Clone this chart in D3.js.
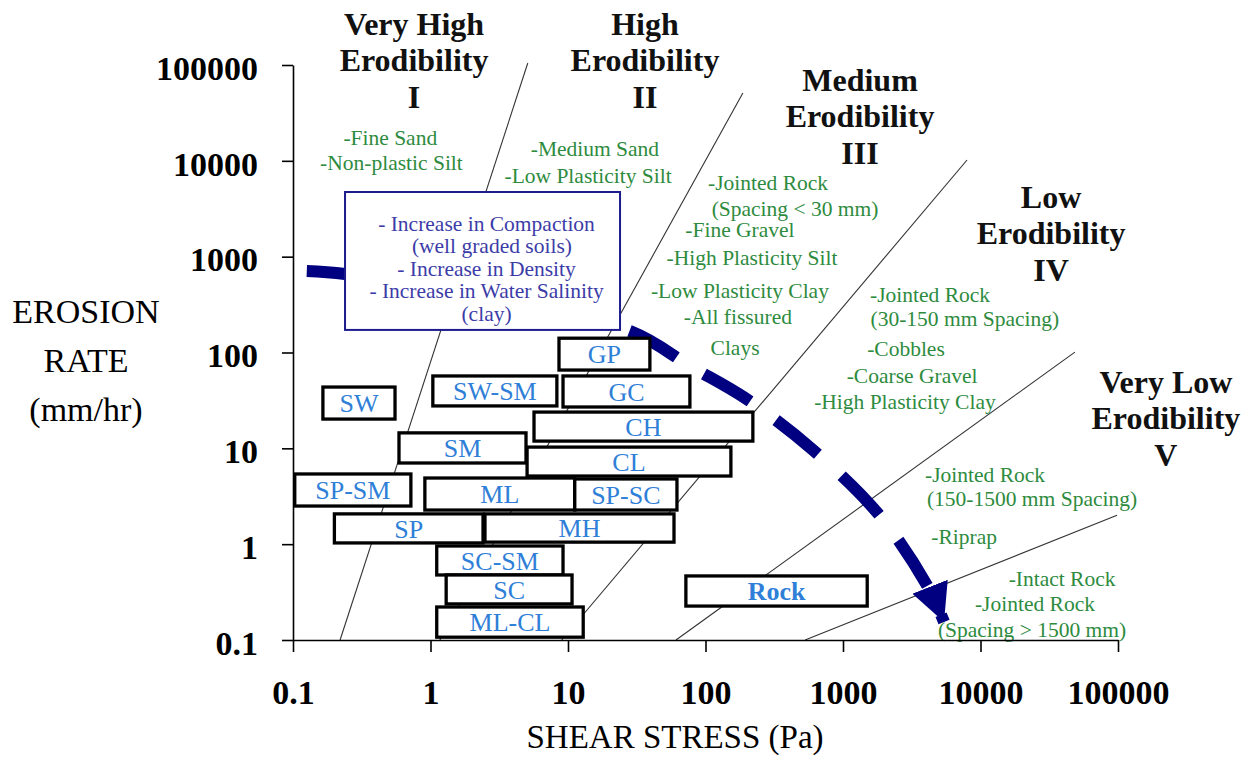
<!DOCTYPE html>
<html>
<head>
<meta charset="utf-8">
<script src="https://cdn.jsdelivr.net/npm/d3@7"></script>
<style>
  body { margin: 0; background: #fff; }
  svg { display: block; }
  text { font-family: "Liberation Serif", "Times New Roman", serif; }
</style>
</head>
<body>
<div id="chart"></div>
<script>
// axis ticks (log scales)
const shearTicks = [0.1, 1, 10, 100, 1000, 10000, 100000]
const rateTicks = [0.1, 1, 10, 100, 1000, 10000, 100000]

// soil groups: shear stress range (Pa) and erosion rate range (mm/hr)
const soilNames = ["SW", "SW-SM", "SM", "SP-SM", "ML", "SP", "MH", "SC-SM", "SC", "ML-CL", "GP", "GC", "CH", "CL", "SP-SC", "Rock"]
const shearLow  = [0.165, 1.04, 0.59, 0.103, 0.91, 0.20, 2.49, 1.11, 1.30, 1.11, 8.6, 9.2, 5.66, 5.04, 11.2, 72]
const shearHigh = [0.552, 8.3, 4.95, 0.72, 11.2, 2.41, 59, 9.2, 10.7, 12.9, 39.4, 77, 221, 153, 62, 1500]
const rateLow   = [20.2, 27.7, 7.03, 2.50, 2.27, 1.03, 1.05, 0.477, 0.238, 0.107, 65.6, 27.0, 11.9, 5.14, 2.27, 0.226]
const rateHigh  = [43.6, 56.9, 14.5, 5.40, 4.90, 2.07, 2.07, 0.957, 0.477, 0.221, 141, 56.9, 23.9, 10.3, 4.79, 0.466]

// erodibility category boundaries (straight lines in log-log space)
const boundaryShearStart = [0.22, 1.17, 9.0, 61, 530]
const boundaryRateStart  = [0.1, 0.1, 0.1, 0.1, 0.1]
const boundaryShearEnd   = [5.1, 187, 7980, 48600, 98400]
const boundaryRateEnd    = [105000, 51000, 10200, 101, 2.0]

// category titles
const categoryTitles = [
    ["Very High", "Erodibility", "I"],
    ["High", "Erodibility", "II"],
    ["Medium", "Erodibility", "III"],
    ["Low", "Erodibility", "IV"],
    ["Very Low", "Erodibility", "V"]
]
const categoryShear = [0.759, 36.3, 1330, 32600, 223000]
const categoryRate  = [206000, 206000, 53600, 3220, 37.8]

// typical materials per category
const materialText = [
    "-Fine Sand", "-Non-plastic Silt",
    "-Medium Sand", "-Low Plasticity Silt",
    "-Jointed Rock", "(Spacing < 30 mm)", "-Fine Gravel", "-High Plasticity Silt",
    "-Low Plasticity Clay", "-All fissured", "Clays",
    "-Jointed Rock", "(30-150 mm Spacing)", "-Cobbles", "-Coarse Gravel", "-High Plasticity Clay",
    "-Jointed Rock", "(150-1500 mm Spacing)", "-Riprap",
    "-Intact Rock", "-Jointed Rock", "(Spacing > 1500 mm)"
]
const materialShear = [0.51, 0.52, 15.7, 14.0, 285, 448, 178, 218, 178, 172, 164,
    4300, 7700, 2870, 3180, 2820, 10800, 23700, 7600, 39200, 24900, 23700]
const materialRate = [17700, 9500, 13600, 7100, 5900, 3200, 1900, 990, 449, 235, 114,
    408, 224, 109, 57, 31, 5.4, 3.0, 1.19, 0.44, 0.238, 0.130]

// trend arrow
const trendShear = [0.126, 0.239, 3.20, 29.2, 77.1, 194, 605, 1860, 4150, 5430]
const trendRate  = [710, 659, 329, 164, 72.3, 33.5, 9.62, 1.97, 0.357, 0.154]
const trendNotes = ["- Increase in Compaction", "  (well graded soils)", "- Increase in Density", "- Increase in Water Salinity", "(clay)"]
const notesShear = [0.239, 23.9]
const notesRate  = [172, 4730]

const width = 1251
const height = 757
const margin = {top: 65, right: 133, bottom: 117, left: 293}

const navy = "#000080"
const green = "#2e8b3e"
const soilBlue = "#2f7fd8"

const svg = d3.select("#chart").append("svg")
    .attr("width", width)
    .attr("height", height)

const x = d3.scaleLog().domain([0.1, 100000]).range([margin.left, width - margin.right])
const y = d3.scaleLog().domain([0.1, 100000]).range([height - margin.bottom, margin.top])

// --------- boundary lines
svg.append("g").selectAll("line")
    .data(boundaryShearStart.map((d, i) => ({x0: d, y0: boundaryRateStart[i], x1: boundaryShearEnd[i], y1: boundaryRateEnd[i]})))
    .join("line")
    .attr("x1", d => x(d.x0))
    .attr("y1", d => y(d.y0))
    .attr("x2", d => x(d.x1))
    .attr("y2", d => y(d.y1))
    .attr("stroke", "#333")
    .attr("stroke-width", 1.1)

// --------- trend arrow (dashed, with head)
svg.append("defs").append("marker")
    .attr("id", "head")
    .attr("viewBox", "0 -19 38 38")
    .attr("refX", 38)
    .attr("refY", 0)
    .attr("markerWidth", 38)
    .attr("markerHeight", 38)
    .attr("markerUnits", "userSpaceOnUse")
    .attr("orient", "auto")
    .append("path")
    .attr("d", "M0,-19L38,0L0,19Z")
    .attr("fill", navy)

const trendLine = d3.line()
    .x(d => x(d[0]))
    .y(d => y(d[1]))
    .curve(d3.curveCatmullRom)

const trend = svg.append("path")
    .datum(trendShear.map((d, i) => [d, trendRate[i]]))
    .attr("d", trendLine)
    .attr("fill", "none")
    .attr("stroke", navy)
    .attr("stroke-width", 12)
    .attr("marker-end", "url(#head)")

// line the dash pattern up so the last dash runs into the head
const dash = 54, period = 86
const len = trend.node().getTotalLength()
const offset = ((Math.ceil(len / period) * period + dash + 40 - len) % period + period) % period
trend.attr("stroke-dasharray", `${dash},${period - dash}`)
    .attr("stroke-dashoffset", offset)

// --------- notes box
const nx0 = x(notesShear[0]), nx1 = x(notesShear[1])
const ny0 = y(notesRate[1]), ny1 = y(notesRate[0])
svg.append("rect")
    .attr("x", nx0)
    .attr("y", ny0)
    .attr("width", nx1 - nx0)
    .attr("height", ny1 - ny0)
    .attr("fill", "#fff")
    .attr("stroke", "#1c1c8c")
    .attr("stroke-width", 2)

svg.append("g").selectAll("text")
    .data(trendNotes)
    .join("text")
    .attr("x", (nx0 + nx1) / 2 + 4)
    .attr("y", (d, i) => ny0 + 31 + i * 22.6)
    .attr("dy", "0.35em")
    .attr("text-anchor", "middle")
    .style("white-space", "pre")
    .style("font-size", "21.5px")
    .attr("fill", "#3c3ca8")
    .text(d => d)

// --------- soil boxes
const soils = soilNames.map((name, i) => ({name, x0: shearLow[i], x1: shearHigh[i], y0: rateLow[i], y1: rateHigh[i]}))

const boxes = svg.append("g").selectAll("g")
    .data(soils)
    .join("g")

boxes.append("rect")
    .attr("x", d => x(d.x0))
    .attr("y", d => y(d.y1))
    .attr("width", d => x(d.x1) - x(d.x0))
    .attr("height", d => y(d.y0) - y(d.y1))
    .attr("fill", "#fff")
    .attr("stroke", "#000")
    .attr("stroke-width", 3.3)

boxes.append("text")
    .attr("x", d => (x(d.x0) + x(d.x1)) / 2)
    .attr("y", d => (y(d.y0) + y(d.y1)) / 2)
    .attr("dy", "0.36em")
    .attr("text-anchor", "middle")
    .style("font-size", "26px")
    .style("font-weight", d => d.name === "Rock" ? "bold" : "normal")
    .attr("fill", soilBlue)
    .text(d => d.name)

// --------- category titles
const titles = svg.append("g").selectAll("text")
    .data(categoryTitles)
    .join("text")
    .attr("text-anchor", "middle")
    .style("font-size", "32px")
    .style("font-weight", "bold")
    .attr("fill", "#111")

titles.selectAll("tspan")
    .data((d, i) => d.map(t => ({t, i})))
    .join("tspan")
    .attr("x", d => x(categoryShear[d.i]))
    .attr("y", (d, j) => y(categoryRate[d.i]) + j * 36.5)
    .text(d => d.t)

// --------- materials
svg.append("g").selectAll("text")
    .data(materialText)
    .join("text")
    .attr("x", (d, i) => x(materialShear[i]))
    .attr("y", (d, i) => y(materialRate[i]))
    .attr("dy", "0.35em")
    .attr("text-anchor", "middle")
    .style("font-size", "21.5px")
    .attr("fill", green)
    .text(d => d)

// --------- axes
const fmt = d => d < 1 ? "0.1" : d3.format("d")(d)

const xAxis = svg.append("g")
    .attr("transform", `translate(0,${y(0.1)})`)
    .call(d3.axisBottom(x).tickValues(shearTicks).tickFormat(fmt).tickSize(12).tickSizeOuter(0))
xAxis.select(".domain").attr("stroke", "#000").attr("stroke-width", 1.6)
xAxis.selectAll(".tick line").attr("stroke", "#000").attr("stroke-width", 1.6)
xAxis.selectAll(".tick text")
    .attr("y", 64)
    .attr("dy", 0)
    .attr("fill", "#000")
    .style("font-size", "34px")
    .style("font-weight", "bold")

const yAxis = svg.append("g")
    .attr("transform", `translate(${x(0.1)},0)`)
    .call(d3.axisLeft(y).tickValues(rateTicks).tickFormat(fmt).tickSize(11).tickSizeOuter(0))
yAxis.select(".domain").attr("stroke", "#000").attr("stroke-width", 1.6)
yAxis.selectAll(".tick line").attr("stroke", "#000").attr("stroke-width", 1.6)
yAxis.selectAll(".tick text")
    .attr("x", -35)
    .attr("dy", "0.42em")
    .attr("fill", "#000")
    .style("font-size", "34px")
    .style("font-weight", "bold")

// axis titles
svg.append("text")
    .attr("x", 675)
    .attr("y", 748)
    .attr("text-anchor", "middle")
    .style("font-size", "33px")
    .text("SHEAR STRESS (Pa)")

svg.append("text")
    .attr("text-anchor", "middle")
    .style("font-size", "34px")
    .selectAll("tspan")
    .data(["EROSION", "RATE", "(mm/hr)"])
    .join("tspan")
    .attr("x", 86)
    .attr("y", (d, i) => 323 + i * 49)
    .text(d => d)
</script>
</body>
</html>
